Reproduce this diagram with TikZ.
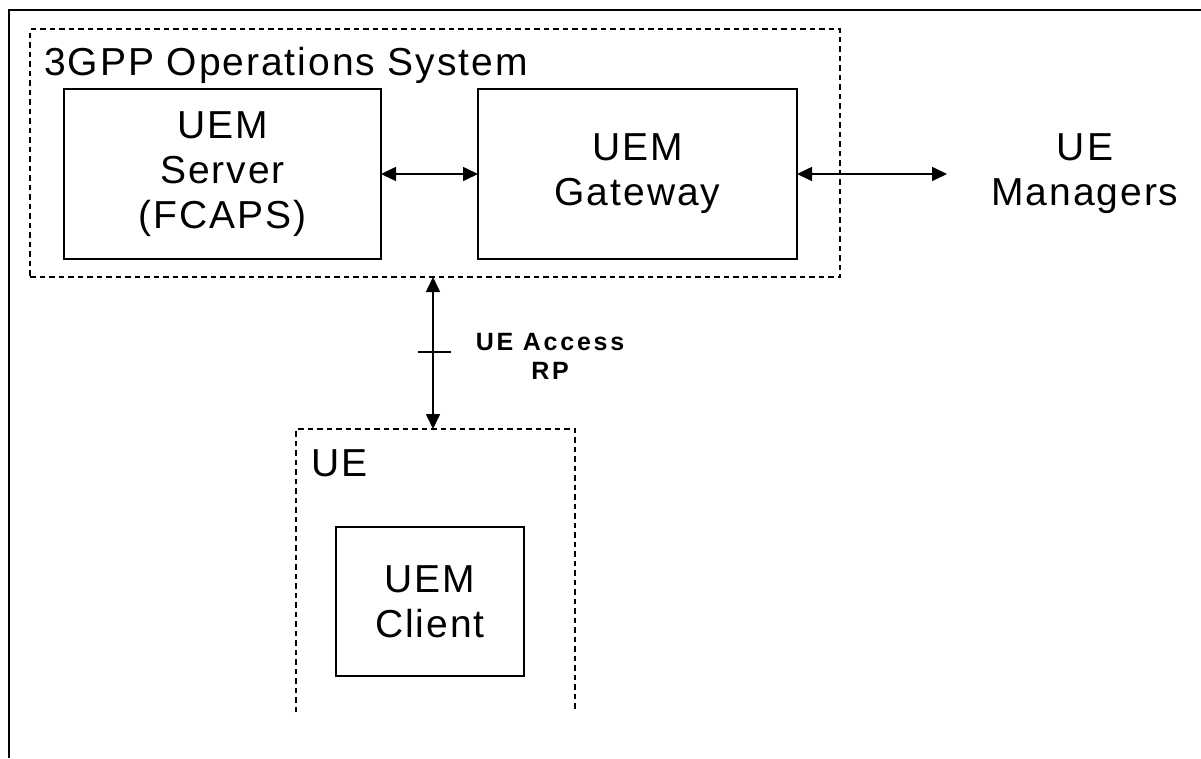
\documentclass[tikz,border=0pt]{standalone}
\usepackage{fontspec}
\setmainfont{Liberation Sans}[LetterSpace=5]
\newfontfamily\rpfont{Liberation Sans}[LetterSpace=11]
\usetikzlibrary{arrows.meta}
\begin{document}
\begin{tikzpicture}[x=1pt,y=-1pt,
  box/.style={draw,line width=1.8pt,inner sep=0pt,outer sep=0pt,align=center,
    anchor=north west,font=\fontsize{39}{45}\selectfont},
  grp/.style={line width=2.6pt,dash pattern=on 5.5pt off 4pt},
  big/.style={font=\fontsize{39}{45}\selectfont,align=center,inner sep=0pt},
  arr/.style={line width=1.6pt,{Triangle[length=15pt,width=14pt]}-{Triangle[length=15pt,width=14pt]}}
]
\useasboundingbox (0,0) rectangle (1201,758);
% outer frame
\draw[line width=2.2pt] (9,758) -- (9,10) -- (1201,10);
% 3GPP group
\node[grp,draw,minimum width=810pt,minimum height=248pt,inner sep=0pt,outer sep=0pt,anchor=north west] (ops) at (30,29) {};
\node[big,anchor=base west] (title) at (44,75) {3GPP Operations System};
% boxes
\node[box,minimum width=317pt,minimum height=170pt] (srv) at (64,89) {UEM\\Server\\(FCAPS)};
\node[box,minimum width=319pt,minimum height=170pt] (gw) at (478,89) {UEM\\Gateway};
\node[big] (mgr) at (1085,174) {UE\\Managers};
\coordinate (mgrend) at (947,174);
% UE group (open at the bottom)
\node[minimum width=279pt,minimum height=283pt,inner sep=0pt,outer sep=0pt,anchor=north west] (ue) at (296,429) {};
\draw[grp] (ue.south west) -- (ue.north west) -- (ue.north east) -- (ue.south east);
\node[big,anchor=base west] (uelbl) at (311,476) {UE};
\node[box,minimum width=188pt,minimum height=149pt] (cli) at (336,527) {UEM\\Client};
% connectors
\draw[arr] (srv.east) -- (gw.west);
\draw[arr] (gw.east) -- (mgrend);
\coordinate (vx) at (433,0);
\draw[arr] (ops.south -| vx) -- (ue.north -| vx);
\draw[line width=1.3pt] (418,352) -- (451,352);
\node[font=\rpfont\bfseries\fontsize{25}{29}\selectfont,align=center,inner sep=0pt] (rp) at (550,356) {UE Access\\RP};
\end{tikzpicture}
\end{document}
